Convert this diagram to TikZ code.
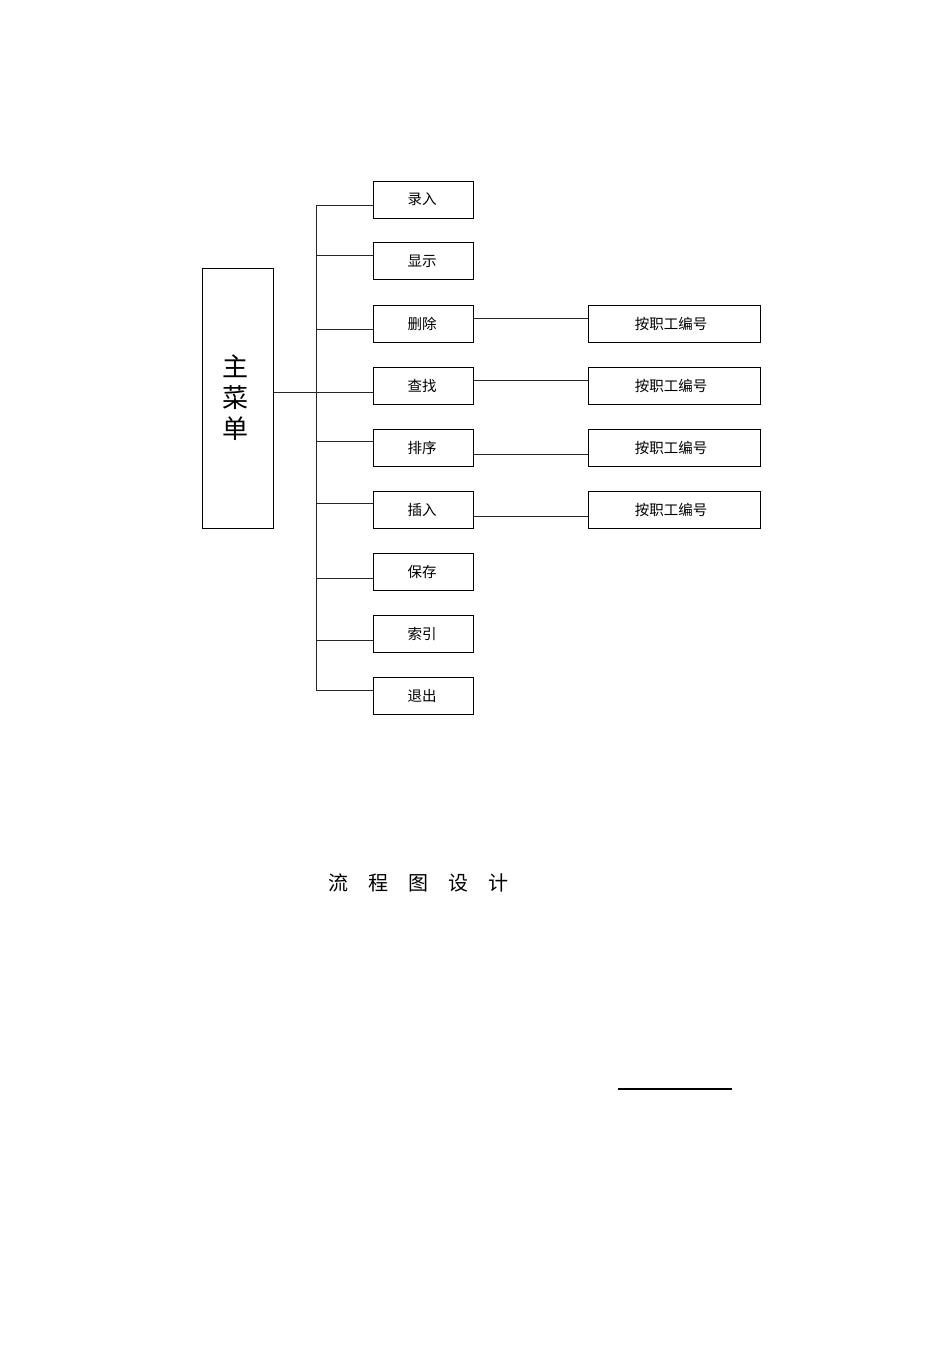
\documentclass[tikz,border=0pt]{standalone}
\usepackage{fontspec}
\newfontfamily\cjk{Noto Sans CJK SC}[Scale=1]
\begin{document}
\begin{tikzpicture}[x=1pt,y=-1pt,
  menubox/.style={draw=black,line width=1pt,minimum width=100pt,minimum height=37pt,inner sep=0pt,font=\cjk\fontsize{14.5}{15}\selectfont},
  subbox/.style={draw=black,line width=1pt,minimum width=172pt,minimum height=37pt,inner sep=0pt,font=\cjk\fontsize{14.5}{15}\selectfont},
  conn/.style={draw=black!85,line width=1pt}]
\useasboundingbox (0,0) rectangle (950,1345);
\node[draw=black,line width=1pt,minimum width=71pt,minimum height=260pt,inner sep=0pt,
  font=\cjk\fontsize{26}{31}\selectfont,align=center] (main) at (237.5,398) {\hspace*{-4pt}主\\\hspace*{-4pt}菜\\\hspace*{-4pt}单};
\node[menubox] (m1) at (423,199.5) {录入\hspace*{2pt}};
\node[menubox] (m2) at (423,261) {显示\hspace*{2pt}};
\node[menubox] (m3) at (423,323.5) {删除\hspace*{2pt}};
\node[menubox] (m4) at (423,385.5) {查找\hspace*{2pt}};
\node[menubox] (m5) at (423,447.5) {排序\hspace*{2pt}};
\node[menubox] (m6) at (423,509.5) {插入\hspace*{2pt}};
\node[menubox] (m7) at (423,571.5) {保存\hspace*{2pt}};
\node[menubox] (m8) at (423,634) {索引\hspace*{2pt}};
\node[menubox] (m9) at (423,695.5) {退出\hspace*{2pt}};
\node[subbox] (s3) at (674,323.5) {按职工编号\hspace*{6pt}};
\node[subbox] (s4) at (674,385.5) {按职工编号\hspace*{6pt}};
\node[subbox] (s5) at (674,447.5) {按职工编号\hspace*{6pt}};
\node[subbox] (s6) at (674,509.5) {按职工编号\hspace*{6pt}};
\coordinate (top) at (316,205);
\coordinate (bot) at (316,690);
\draw[conn] (m1.west|-0,205) -- (top) -- (bot) -- (m9.west|-0,690);
\foreach \i/\y in {2/255,3/329,6/503,7/578,8/640,5/441}{
  \draw[conn] (316,\y) -- (m\i.west|-0,\y);
}
\draw[conn] (main.east|-0,392) -- (m4.west|-0,392);
\draw[conn] (m3.east|-0,318) -- (s3.west|-0,318);
\draw[conn] (m4.east|-0,380) -- (s4.west|-0,380);
\draw[conn] (m5.east|-0,454) -- (s5.west|-0,454);
\draw[conn] (m6.east|-0,516) -- (s6.west|-0,516);
\node[font=\cjk\fontsize{20}{22}\selectfont] (title) at (418,883) {流\hspace{20pt}程\hspace{20pt}图\hspace{20pt}设\hspace{20pt}计};
\coordinate (u1) at (618,1089);
\coordinate (u2) at (732,1089);
\draw[line width=1.2pt] (u1) -- (u2);
\end{tikzpicture}
\end{document}
